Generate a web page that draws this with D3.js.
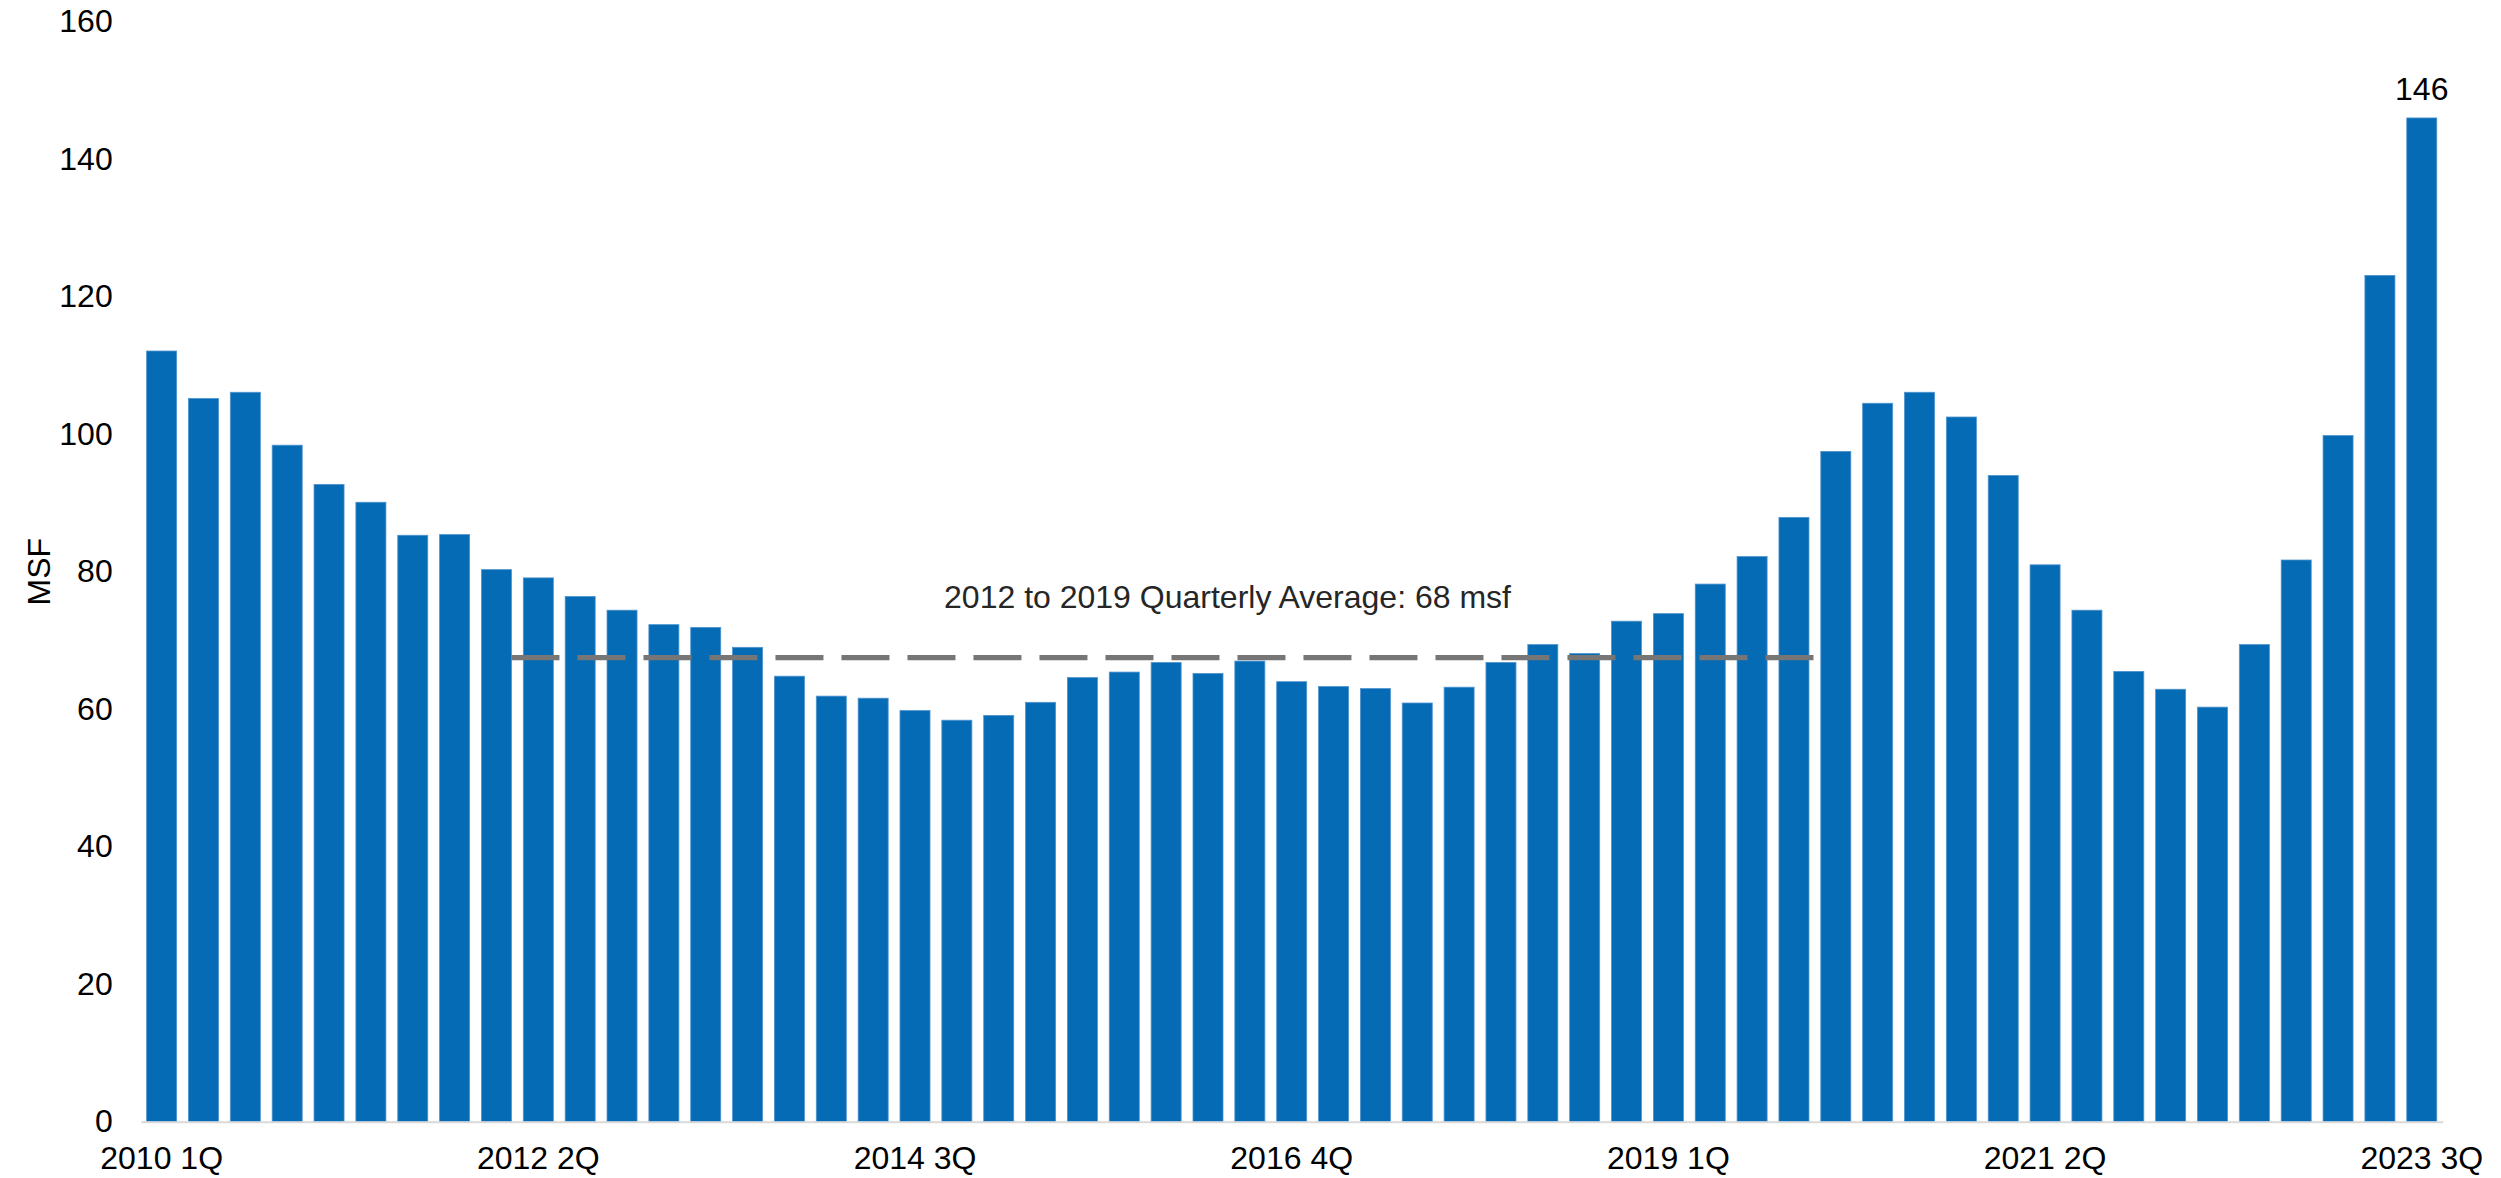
<!DOCTYPE html>
<html>
<head>
<meta charset="utf-8">
<script src="https://cdn.jsdelivr.net/npm/d3@7"></script>
<style>
  html, body { margin: 0; padding: 0; background: #ffffff; }
  svg { display: block; font-family: "Liberation Sans", Arial, Helvetica, sans-serif; }
</style>
</head>
<body>
<svg id="chart" width="2501" height="1178"></svg>
<script>
// Quarterly volume, million square feet
const quarters = [
  "2010 1Q","2010 2Q","2010 3Q","2010 4Q",
  "2011 1Q","2011 2Q","2011 3Q","2011 4Q",
  "2012 1Q","2012 2Q","2012 3Q","2012 4Q",
  "2013 1Q","2013 2Q","2013 3Q","2013 4Q",
  "2014 1Q","2014 2Q","2014 3Q","2014 4Q",
  "2015 1Q","2015 2Q","2015 3Q","2015 4Q",
  "2016 1Q","2016 2Q","2016 3Q","2016 4Q",
  "2017 1Q","2017 2Q","2017 3Q","2017 4Q",
  "2018 1Q","2018 2Q","2018 3Q","2018 4Q",
  "2019 1Q","2019 2Q","2019 3Q","2019 4Q",
  "2020 1Q","2020 2Q","2020 3Q","2020 4Q",
  "2021 1Q","2021 2Q","2021 3Q","2021 4Q",
  "2022 1Q","2022 2Q","2022 3Q","2022 4Q",
  "2023 1Q","2023 2Q","2023 3Q"
];

const msf = [
  112.1, 105.2, 106.1, 98.4,
  92.7, 90.1, 85.3, 85.4,
  80.3, 79.1, 76.4, 74.4,
  72.3, 71.9, 69.0, 64.8,
  61.9, 61.6, 59.8, 58.4,
  59.1, 61.0, 64.6, 65.4,
  66.8, 65.2, 67.0, 64.0,
  63.3, 63.0, 60.9, 63.2,
  66.8, 69.4, 68.1, 72.8,
  73.9, 78.2, 82.2, 87.9,
  97.5, 104.5, 106.1, 102.5,
  94.0, 81.0, 74.4, 65.5,
  62.9, 60.3, 69.4, 81.7,
  99.8, 123.1, 146
];

const xTickLabels = ["2010 1Q","2012 2Q","2014 3Q","2016 4Q","2019 1Q","2021 2Q","2023 3Q"];
const yTicks = [0, 20, 40, 60, 80, 100, 120, 140, 160];

// 2012–2019 reference average
const avgStart = "2012 1Q";
const avgEnd = "2019 4Q";
const avgValue = 67.5;
const labelledQuarter = "2023 3Q";

const width = 2501, height = 1178;
const margin = { top: 21.7, right: 58.3, bottom: 56.3, left: 140.7 };

const svg = d3.select("#chart");

const x = d3.scaleBand()
  .domain(quarters)
  .range([margin.left, width - margin.right])
  .paddingInner(0.283)
  .paddingOuter(0.1415);

const y = d3.scaleLinear()
  .domain([0, 160])
  .range([height - margin.bottom, margin.top]);

const fontSize = 32;

// Y axis labels (no axis line, no gridlines)
const yAxis = d3.axisLeft(y).tickValues(yTicks).tickSize(0).tickPadding(0).tickFormat(d3.format("d"));
const gy = svg.append("g")
  .attr("transform", `translate(${margin.left - 28},0)`)
  .call(yAxis);
gy.select(".domain").remove();
gy.selectAll("text")
  .attr("font-size", fontSize)
  .attr("fill", "#000")
  .attr("font-family", "'Liberation Sans', Arial, sans-serif");

// Y axis title
svg.append("text")
  .attr("transform", `translate(50,${(y(0) + y(160)) / 2}) rotate(-90)`)
  .attr("text-anchor", "middle")
  .attr("font-size", fontSize)
  .attr("fill", "#000")
  .text("MSF");

// Bars
svg.append("g")
  .selectAll("rect")
  .data(msf)
  .join("rect")
  .attr("x", (d, i) => x(quarters[i]))
  .attr("y", d => y(d))
  .attr("width", x.bandwidth())
  .attr("height", d => y(0) - y(d))
  .attr("fill", "#056bb5")
  .attr("stroke", "#4f93cf")
  .attr("stroke-width", 0.8);

// X axis baseline and labels
const xAxis = d3.axisBottom(x)
  .tickValues(xTickLabels)
  .tickSize(0)
  .tickPadding(25);
const gx = svg.append("g")
  .attr("transform", `translate(0,${y(0)})`)
  .call(xAxis);
gx.select(".domain")
  .attr("stroke", "#d9d9d9")
  .attr("stroke-width", 2);
gx.selectAll("text")
  .attr("font-size", fontSize)
  .attr("fill", "#000")
  .attr("font-family", "'Liberation Sans', Arial, sans-serif");

// Dashed average line
const step = x.step();
const lineX0 = x(avgStart) + x.bandwidth();
const lineX1 = x(avgEnd) + x.bandwidth() + (step - x.bandwidth()) / 2;
svg.append("line")
  .attr("x1", lineX0)
  .attr("x2", lineX1)
  .attr("y1", y(avgValue))
  .attr("y2", y(avgValue))
  .attr("stroke", "#767676")
  .attr("stroke-width", 5.3)
  .attr("stroke-dasharray", "48 18");

svg.append("text")
  .attr("x", 1227.5)
  .attr("y", y(avgValue) - 50)
  .attr("text-anchor", "middle")
  .attr("font-size", fontSize)
  .attr("fill", "#262626")
  .text(`2012 to 2019 Quarterly Average: ${Math.round(avgValue)} msf`);

// Value label for the latest quarter
const lastIdx = quarters.indexOf(labelledQuarter);
svg.append("text")
  .attr("x", x(labelledQuarter) + x.bandwidth() / 2)
  .attr("y", y(msf[lastIdx]) - 18)
  .attr("text-anchor", "middle")
  .attr("font-size", fontSize)
  .attr("fill", "#000")
  .text(d3.format("d")(msf[lastIdx]));
</script>
</body>
</html>
